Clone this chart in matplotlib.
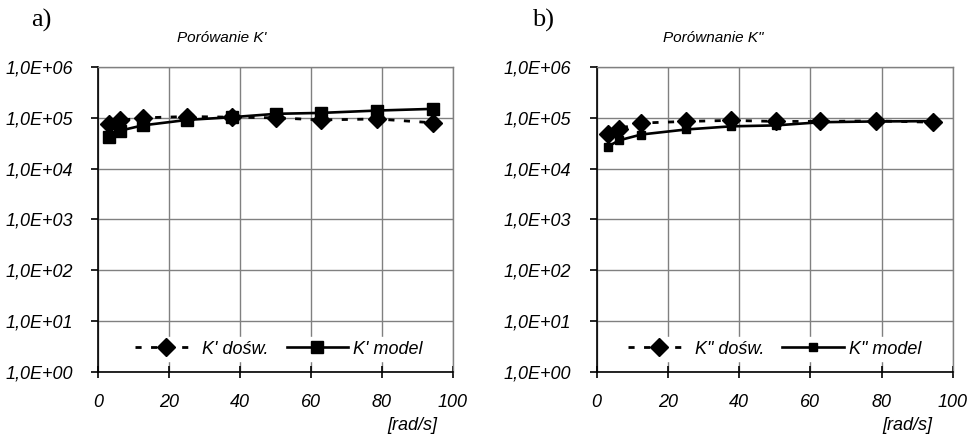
#!/usr/bin/env python3
"""Porównanie K' i K" - dane doświadczalne vs model (skala log)."""

import matplotlib
matplotlib.use("Agg")
import matplotlib.pyplot as plt
import numpy as np

# czestosc katowa [rad/s]
omega = [3.14, 6.28, 12.57, 25.13, 37.70, 50.27, 62.83, 78.54, 94.25]

k1_dosw = [7.6e4, 8.9e4, 1.0e5, 1.06e5, 1.03e5, 1.0e5, 9.1e4, 9.5e4, 8.0e4]
k1_model = [4.2e4, 5.6e4, 7.1e4, 9.1e4, 1.03e5, 1.2e5, 1.25e5, 1.39e5, 1.5e5]

k2_dosw = [4.8e4, 6.1e4, 7.9e4, 8.5e4, 8.9e4, 8.5e4, 8.5e4, 8.7e4, 8.2e4]
k2_model = [2.7e4, 3.6e4, 4.7e4, 5.9e4, 6.8e4, 7.1e4, 8.2e4, 8.5e4, 8.6e4]

panels = [
    ("a)", "Porówanie K'", "K' dośw.", "K' model", k1_dosw, k1_model),
    ("b)", 'Porównanie K"', 'K" dośw.', 'K" model', k2_dosw, k2_model),
]
y_ticks = [1e0, 1e1, 1e2, 1e3, 1e4, 1e5, 1e6]
x_ticks = [0, 20, 40, 60, 80, 100]

plt.rcParams["font.family"] = ["Liberation Sans", "DejaVu Sans"]

W, H = 967, 438
fig = plt.figure(figsize=(W / 100, H / 100), dpi=100)

# pozycje w pikselach: lewa, prawa krawedz osi; tytul, etykieta, [rad/s]
boxes = [
    dict(left=98, right=453, title_x=222, lab_x=41, unit_x=437, sq=8, leg_x=0.51),
    dict(left=596.5, right=953, title_x=713, lab_x=543, unit_x=932, sq=5.5, leg_x=0.50),
]
top, bottom = 67, 372

for (lab, title, l1, l2, dosw, model), b in zip(panels, boxes):
    ax = fig.add_axes([b["left"] / W, 1 - bottom / H,
                       (b["right"] - b["left"]) / W, (bottom - top) / H])
    ax.set_yscale("log")
    ax.set_xlim(0, 100)
    ax.set_ylim(1e0, 1e6)

    ax.plot(omega, dosw, color="black", lw=2.0, linestyle=(0, (2.2, 3.4)),
            marker="D", markersize=8.8, label=l1, zorder=3)
    ax.plot(omega, model, color="black", lw=1.9, linestyle="-",
            marker="s", markersize=b["sq"], label=l2, zorder=3)

    ax.set_xticks(x_ticks)
    ax.set_yticks(y_ticks)
    ax.yaxis.set_minor_locator(matplotlib.ticker.NullLocator())
    ax.set_yticklabels([f"1,0E+{int(np.log10(v)):02d}" for v in y_ticks])
    for t in ax.get_xticklabels() + ax.get_yticklabels():
        t.set_fontstyle("italic")
        t.set_fontsize(13)
    ax.tick_params(axis="x", direction="inout", length=9, width=1.2, pad=11)
    ax.tick_params(axis="y", direction="out", length=5, width=1.2, pad=13)

    ax.grid(True, color="#808080", lw=1.0)
    ax.set_axisbelow(True)
    for side in ("top", "right"):
        ax.spines[side].set_color("#808080")
        ax.spines[side].set_linewidth(1.0)
    for side in ("left", "bottom"):
        ax.spines[side].set_color("black")
        ax.spines[side].set_linewidth(1.2)

    leg = ax.legend(loc="center", bbox_to_anchor=(b["leg_x"], 0.075), ncol=2,
                    frameon=True, fancybox=False, handlelength=3.4,
                    columnspacing=1.0, handletextpad=0.3, borderpad=0.2,
                    prop=dict(style="italic", size=13))
    leg.get_frame().set_edgecolor("white")
    leg.get_frame().set_facecolor("white")
    leg.get_frame().set_alpha(1.0)

    fig.text(b["title_x"] / W, 1 - 38 / H, title, ha="center", va="center",
             fontsize=11, fontstyle="italic")
    fig.text(b["lab_x"] / W, 1 - 20 / H, lab, ha="center", va="center",
             fontsize=19, family=["Liberation Serif", "DejaVu Serif"])
    fig.text(b["unit_x"] / W, 1 - 425 / H, "[rad/s]", ha="right", va="center",
             fontsize=13, fontstyle="italic")

fig.savefig("out.png", dpi=100)
